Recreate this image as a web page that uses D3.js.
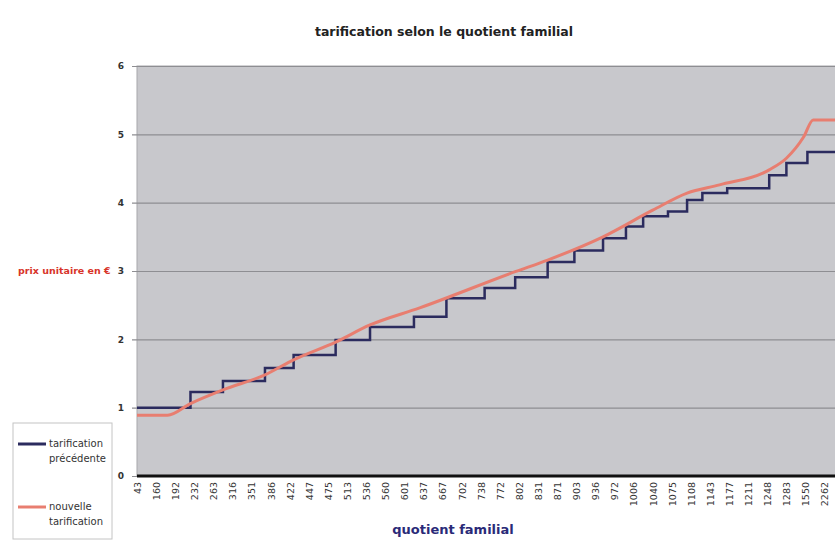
<!DOCTYPE html>
<html>
<head>
<meta charset="utf-8">
<script src="https://cdn.jsdelivr.net/npm/d3@7"></script>
<style>
  body { margin: 0; background: #ffffff; }
  svg { display: block; }
</style>
</head>
<body>
<svg id="chart" width="835" height="541"></svg>
<script>
// tick labels of the category axis (quotient familial)
var quotientLabels = ["43","160","192","232","263","316","351","386","422","447","475","513",
    "536","560","601","637","667","702","738","772","802","831","871","903","936","972",
    "1006","1040","1075","1108","1143","1177","1211","1248","1283","1550","2262"];

var yTicks = [0, 1, 2, 3, 4, 5, 6];

// tarification précédente : paliers (position sur l'axe, prix)
var oldStepsPos = [0, 2.8, 4.5, 6.7, 8.2, 10.4, 12.2, 14.5, 16.2, 18.2, 19.8, 21.5, 22.9,
    24.4, 25.6, 26.5, 27.8, 28.8, 29.6, 30.9, 33.1, 34.0, 35.1, 36.6];
var oldStepsPrice = [1.0, 1.23, 1.39, 1.58, 1.77, 1.99, 2.18, 2.33, 2.6, 2.75, 2.91, 3.13,
    3.3, 3.48, 3.65, 3.8, 3.87, 4.04, 4.14, 4.21, 4.4, 4.58, 4.74, 4.74];

// nouvelle tarification
var newPos = [0, 1.6, 2.8, 4.5, 6.7, 8.2, 10.4, 12.2, 14.8, 19.8, 21.5, 24.4, 27.0, 28.8,
    30.5, 33.1, 34.0, 34.9, 35.4, 36.6];
var newPrice = [0.89, 0.89, 1.06, 1.26, 1.48, 1.7, 1.96, 2.21, 2.46, 2.99, 3.16, 3.5, 3.89,
    4.14, 4.26, 4.48, 4.65, 4.96, 5.21, 5.21];

var svg = d3.select("#chart");
var font = "'DejaVu Sans', Verdana, sans-serif";

var plotLeft = 137, plotTop = 66, plotBottom = 476, plotRight = 840;

var x = d3.scaleLinear().domain([0, 36]).range([plotLeft, plotLeft + 36 * 19.1]);
var y = d3.scaleLinear().domain([0, 6]).range([plotBottom, plotTop]);

// fond gris de la zone de tracé
svg.append("rect")
    .attr("x", plotLeft)
    .attr("y", plotTop)
    .attr("width", plotRight - plotLeft)
    .attr("height", plotBottom - plotTop)
    .attr("fill", "#c8c8cc")
    .attr("stroke", "#a8a8ac")
    .attr("stroke-width", 1);

// grille horizontale + graduations
var yAxis = d3.axisLeft(y)
    .tickValues(yTicks)
    .tickSize(-(plotRight - plotLeft) - 5)
    .tickPadding(8)
    .tickFormat(d3.format("d"));

var gy = svg.append("g")
    .attr("transform", "translate(" + (plotLeft - 5) + ",0)")
    .call(yAxis);
gy.select(".domain").remove();
gy.selectAll(".tick line")
    .attr("stroke", "#8e8e92")
    .attr("stroke-width", 1.2);
gy.selectAll(".tick text")
    .attr("font-family", font)
    .attr("font-size", "9px")
    .attr("font-weight", "bold")
    .attr("fill", "#333333");

// axe des abscisses
var xAxis = d3.axisBottom(x)
    .tickValues(d3.range(quotientLabels.length))
    .tickSize(0)
    .tickFormat(function (d) { return quotientLabels[d]; });

var gx = svg.append("g")
    .attr("transform", "translate(0," + plotBottom + ")")
    .call(xAxis);
gx.select(".domain").remove();
gx.selectAll(".tick text")
    .attr("font-family", font)
    .attr("font-size", "9.5px")
    .attr("fill", "#333333")
    .attr("text-anchor", "end")
    .attr("dy", "0.35em")
    .attr("transform", "translate(0,6) rotate(-90)")
    .attr("x", 0)
    .attr("y", 0);

svg.append("line")
    .attr("x1", plotLeft)
    .attr("x2", plotRight)
    .attr("y1", plotBottom)
    .attr("y2", plotBottom)
    .attr("stroke", "#111111")
    .attr("stroke-width", 3);

// series
var oldData = oldStepsPos.map(function (p, i) { return [p, oldStepsPrice[i]]; });
var newData = newPos.map(function (p, i) { return [p, newPrice[i]]; });

var stepLine = d3.line()
    .x(function (d) { return x(d[0]); })
    .y(function (d) { return y(d[1]); })
    .curve(d3.curveStepAfter);

var smoothLine = d3.line()
    .x(function (d) { return x(d[0]); })
    .y(function (d) { return y(d[1]); })
    .curve(d3.curveMonotoneX);

svg.append("path")
    .datum(oldData)
    .attr("d", stepLine)
    .attr("fill", "none")
    .attr("stroke", "#2b2b5e")
    .attr("stroke-width", 2.5);

svg.append("path")
    .datum(newData)
    .attr("d", smoothLine)
    .attr("fill", "none")
    .attr("stroke", "#e87e70")
    .attr("stroke-width", 3);

// titres
svg.append("text")
    .attr("x", 444)
    .attr("y", 36)
    .attr("text-anchor", "middle")
    .text("tarification selon le quotient familial")
    .attr("font-family", font)
    .attr("font-size", "12.5px")
    .attr("font-weight", "bold")
    .attr("fill", "#222222");

svg.append("text")
    .attr("x", 18)
    .attr("y", 274)
    .text("prix unitaire en €")
    .attr("font-family", font)
    .attr("font-size", "9.5px")
    .attr("font-weight", "bold")
    .attr("fill", "#d8342a");

svg.append("text")
    .attr("x", 453)
    .attr("y", 534)
    .attr("text-anchor", "middle")
    .text("quotient familial")
    .attr("font-family", font)
    .attr("font-size", "13px")
    .attr("font-weight", "bold")
    .attr("fill", "#2a2a78");

// légende
var legend = svg.append("g").attr("class", "legend");
legend.append("rect")
    .attr("x", 13)
    .attr("y", 423)
    .attr("width", 99)
    .attr("height", 116)
    .attr("fill", "#ffffff")
    .attr("stroke", "#c4c4c4");

var legendItems = [
    {color: "#2b2b5e", lines: ["tarification", "précédente"], y: 444},
    {color: "#e87e70", lines: ["nouvelle", "tarification"], y: 507}
];
legendItems.forEach(function (it) {
    legend.append("line")
        .attr("x1", 18).attr("x2", 46)
        .attr("y1", it.y).attr("y2", it.y)
        .attr("stroke", it.color)
        .attr("stroke-width", 3);
    it.lines.forEach(function (l, j) {
        legend.append("text")
            .attr("x", 49)
            .attr("y", it.y + 3 + j * 15)
            .text(l)
            .attr("font-family", font)
            .attr("font-size", "10px")
            .attr("fill", "#333333");
    });
});
</script>
</body>
</html>
